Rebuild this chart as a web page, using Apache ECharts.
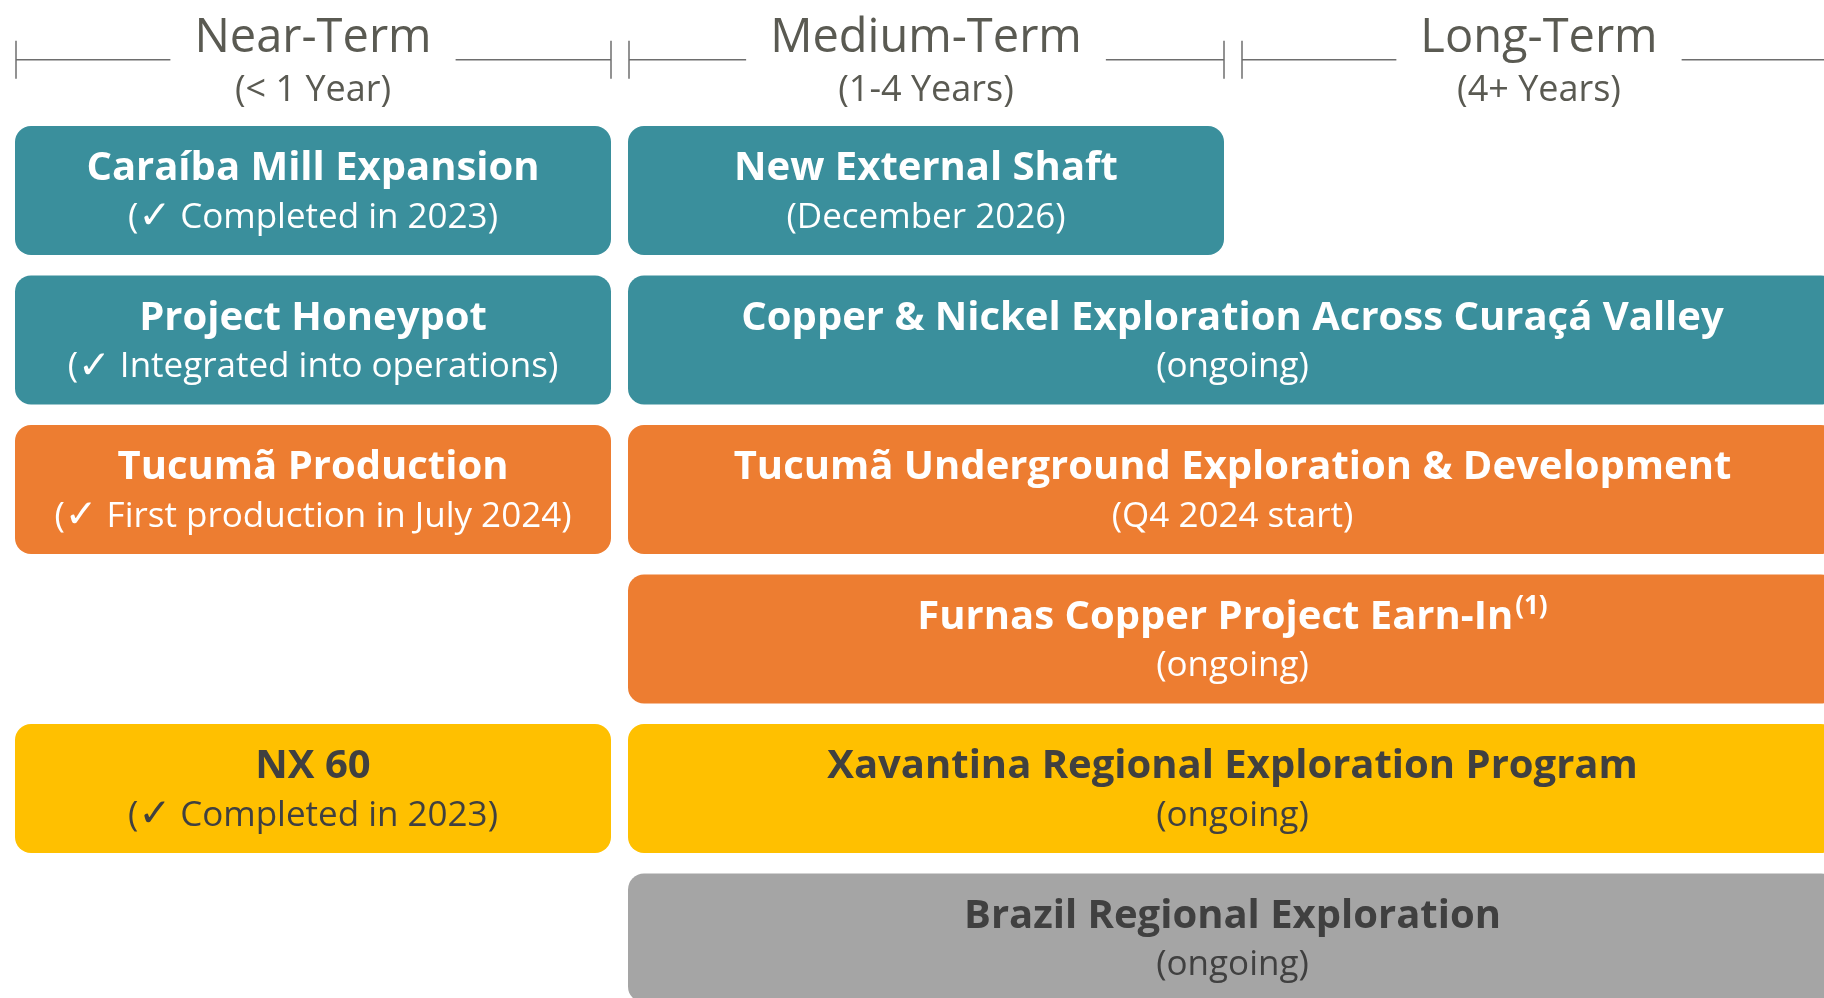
<!DOCTYPE html>
<html>
<head>
<meta charset="utf-8">
<script src="https://cdn.jsdelivr.net/npm/echarts@6/dist/echarts.min.js"></script>
<style>
    html, body {margin: 0; padding: 0; background: #fff;}
    #main {width: 1824px; height: 998px;}
</style>
</head>
<body>
<div id="main"></div>
<script>
// term columns
var terms = ['Near-Term', 'Medium-Term', 'Long-Term'];
var termYears = ['(< 1 Year)', '(1-4 Years)', '(4+ Years)'];

// projects
var projects = ['Caraíba Mill Expansion', 'New External Shaft', 'Project Honeypot',
    'Copper & Nickel Exploration Across Curaçá Valley', 'Tucumã Production',
    'Tucumã Underground Exploration & Development', 'Furnas Copper Project Earn-In',
    'NX 60', 'Xavantina Regional Exploration Program', 'Brazil Regional Exploration'];
var notes = ['(✓ Completed in 2023)', '(December 2026)', '(✓ Integrated into operations)',
    '(ongoing)', '(✓ First production in July 2024)', '(Q4 2024 start)', '(ongoing)',
    '(✓ Completed in 2023)', '(ongoing)', '(ongoing)'];
var footnotes = ['', '', '', '', '', '', '(1)', '', '', ''];
var rows = [0, 0, 1, 1, 2, 2, 3, 4, 4, 5];
var startTerm = [0, 1, 0, 1, 0, 1, 1, 0, 1, 1];
var endTerm = [1, 2, 1, 3, 1, 3, 3, 1, 3, 3];
var groups = ['Caraíba', 'Caraíba', 'Caraíba', 'Caraíba', 'Tucumã', 'Tucumã', 'Tucumã',
    'Xavantina', 'Xavantina', 'Regional'];

var groupColors = {'Caraíba': '#3A8F9C', 'Tucumã': '#ED7D31', 'Xavantina': '#FFC000', 'Regional': '#A5A5A5'};
var groupText = {'Caraíba': '#ffffff', 'Tucumã': '#ffffff', 'Xavantina': '#404040', 'Regional': '#404040'};

var FONT = '"Open Sans", Lato, sans-serif';
var GAP = 17;
var headColor = '#5A5A52';
var lineColor = '#6E6E6E';

var measureCtx = document.createElement('canvas').getContext('2d');
function textWidth(txt, size) {
    measureCtx.font = size + 'px ' + FONT;
    return measureCtx.measureText(txt).width;
}

var boxData = [];
for (var i = 0; i < projects.length; i++) {
    boxData.push([startTerm[i], endTerm[i], rows[i], i]);
}
var headData = [];
for (var j = 0; j < terms.length; j++) {
    headData.push([j, j + 1, j]);
}

var myChart = echarts.init(document.getElementById('main'));
var option = {
    animation: false,
    grid: {left: 15, top: 115.75, width: 1839, height: 897, outerBoundsMode: 'none', containLabel: false},
    xAxis: {type: 'value', min: 0, max: 3, show: false},
    yAxis: {type: 'value', min: 0, max: 6, inverse: true, show: false},
    series: [
        {
            // column headers
            type: 'custom',
            clip: false,
            data: headData,
            renderItem: function (params, api) {
                var k = api.value(2);
                var p0 = api.coord([api.value(0), 0]);
                var p1 = api.coord([api.value(1), 0]);
                var x0 = p0[0] + 1, x1 = p1[0] - GAP;
                var cx = (p0[0] + p1[0] - GAP) / 2;
                var ly = p0[1] - 56;
                var half = textWidth(terms[k], 47) / 2 + 24;
                var lineStyle = {stroke: lineColor, lineWidth: 1.5};
                return {
                    type: 'group',
                    children: [
                        {type: 'line', shape: {x1: x0, y1: ly, x2: cx - half, y2: ly}, style: lineStyle},
                        {type: 'line', shape: {x1: cx + half, y1: ly, x2: x1, y2: ly}, style: lineStyle},
                        {type: 'line', shape: {x1: x0, y1: ly - 19, x2: x0, y2: ly + 19}, style: lineStyle},
                        {type: 'line', shape: {x1: x1, y1: ly - 19, x2: x1, y2: ly + 19}, style: lineStyle},
                        {type: 'text', style: {text: terms[k], x: cx, y: ly - 21.5, align: 'center', verticalAlign: 'middle',
                            fontSize: 47, fontFamily: FONT, fill: headColor}},
                        {type: 'text', style: {text: termYears[k], x: cx, y: ly + 31, align: 'center', verticalAlign: 'middle',
                            fontSize: 36, fontFamily: FONT, fill: headColor}}
                    ]
                };
            }
        },
        {
            // project boxes
            type: 'custom',
            clip: false,
            data: boxData,
            renderItem: function (params, api) {
                var k = api.value(3);
                var a = api.coord([api.value(0), api.value(2)]);
                var b = api.coord([api.value(1), api.value(2) + 1]);
                var pitch = b[1] - a[1];
                var h = 129;
                var top = a[1] + (pitch - h) / 2;
                var cx = (a[0] + b[0] - GAP) / 2;
                var cy = top + h / 2;
                var col = groupText[groups[k]];
                var title = '{t|' + projects[k] + '}' + (footnotes[k] ? '{s|' + footnotes[k] + '}' : '');
                var note = '{n|' + notes[k].replace('✓', '}{c|✓}{n|') + '}';
                return {
                    type: 'group',
                    children: [
                        {type: 'rect', shape: {x: a[0], y: top, width: b[0] - a[0] - GAP, height: h, r: 16},
                            style: {fill: groupColors[groups[k]]}},
                        {type: 'text', style: {text: title, x: cx, y: cy - 21.5, align: 'center', verticalAlign: 'middle',
                            rich: {
                                t: {fontSize: 40, fontWeight: 'bold', fontFamily: FONT, fill: col, lineHeight: 48},
                                s: {fontSize: 26, fontWeight: 'bold', fontFamily: FONT, fill: col, lineHeight: 48,
                                    verticalAlign: 'top', padding: [0, 0, 0, 2]}
                            }}},
                        {type: 'text', style: {text: note, x: cx, y: cy + 27.5, align: 'center', verticalAlign: 'middle',
                            rich: {
                                n: {fontSize: 35, fontFamily: FONT, fill: col, lineHeight: 44},
                                c: {fontSize: 39, fontWeight: 'bold', fontFamily: 'DejaVu Sans', fill: col, lineHeight: 44}
                            }}}
                    ]
                };
            }
        }
    ]
};
myChart.setOption(option);
</script>
</body>
</html>
